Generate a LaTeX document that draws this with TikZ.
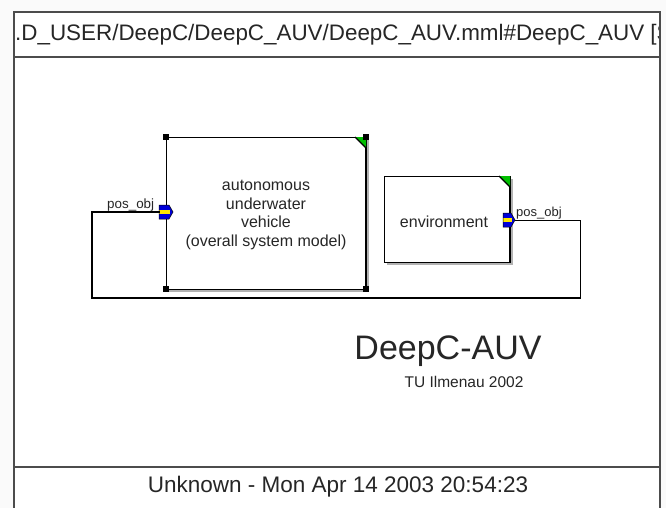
\documentclass[tikz,border=0pt]{standalone}
\usepackage{fontspec}
\setmainfont{Liberation Sans}
\begin{document}
\begin{tikzpicture}[x=1pt,y=-1pt,
  frameline/.style={draw=black!70,line width=1.6pt},
  blockbox/.style={draw=black,line width=0.8pt,fill=white},
  shadowbox/.style={fill=black!30,draw=none},
  handle/.style={fill=black,draw=none,minimum size=5.5pt,inner sep=0pt},
  lbl/.style={inner sep=0pt,text=black!85},
  wire/.style={draw=black,line cap=rect}]
\useasboundingbox (0,0) rectangle (666,508);
\fill[white!98!black] (0,0) rectangle (666,508);
% frame
\fill[white] (14,12) rectangle (660,520);
\begin{scope}
\clip (14,12) rectangle (659,57);
\node[lbl,anchor=west,font=\fontsize{22.4}{24}\selectfont] (hdr) at (15,35) {.D\_USER/DeepC/DeepC\_AUV/DeepC\_AUV.mml\#DeepC\_AUV [S};
\end{scope}
\draw[frameline] (14,520) -- (14,12) -- (660,12) -- (660,520);
\draw[frameline] (14,57) -- (660,57);
\draw[frameline] (14,467) -- (660,467);
\node[lbl,font=\fontsize{22.5}{24}\selectfont] (ftr) at (338,487) {Unknown - Mon Apr 14 2003 20:54:23};
% AUV block
\fill[shadowbox] (169,140) rectangle (369,292);
\draw[blockbox] (166,137) rectangle (366,289);
\draw[black,line width=1.4pt] (366,137) -- (366,289);
\fill[green!75!black] (355,137) -- (366,137) -- (366,148) -- cycle;
\draw[black,line width=1.2pt] (355,137) -- (366,148);
\node[handle] (h1) at (166,137) {};
\node[handle] (h2) at (366,137) {};
\node[handle] (h3) at (166,289) {};
\node[handle] (h4) at (366,289) {};
\node[lbl,align=center,font=\fontsize{16}{18.7}\selectfont] (auv) at (266,215)
  {autonomous\\underwater\\vehicle\\(overall system model)};
% environment block
\fill[shadowbox] (387,179) rectangle (513,265);
\draw[blockbox] (384,176) rectangle (510,262);
\draw[black,line width=1.8pt] (510,176) -- (510,262);
\fill[green!75!black] (499,176) -- (510,176) -- (510,187) -- cycle;
\draw[black,line width=1.2pt] (499,176) -- (510,187);
\node[lbl,font=\fontsize{16}{18}\selectfont] (env) at (444,222) {environment};
% ports
\begin{scope}[shift={(159,205)}]
\fill[blue!85!black] (0,0) -- (10,0) -- (14,7) -- (10,14) -- (0,14) -- cycle;
\fill[yellow!90!orange] (0,5) rectangle (11,9);
\draw[black,line width=0.5pt] (0,0) -- (10,0) -- (14,7) -- (10,14) -- (0,14) -- cycle;
\end{scope}
\coordinate (auvport) at (159,212);
\begin{scope}[shift={(503,213)}]
\fill[blue!85!black] (0,0) -- (8,0) -- (12,7) -- (8,14) -- (0,14) -- cycle;
\fill[yellow!90!orange] (0,5) rectangle (9,9);
\draw[black,line width=0.5pt] (0,0) -- (8,0) -- (12,7) -- (8,14) -- (0,14) -- cycle;
\end{scope}
\coordinate (envport) at (515,220);
\node[lbl,anchor=south west,font=\fontsize{13.4}{14}\selectfont] (pl) at (107,211) {pos\_obj};
\node[lbl,anchor=south west,font=\fontsize{13}{14}\selectfont] (pr) at (516,219) {pos\_obj};
% connector
\coordinate (c1) at (580,220);
\coordinate (c2) at (580,298);
\coordinate (c3) at (92,298);
\coordinate (c4) at (92,212);
\draw[wire,line width=1pt] (envport) -- (c1) -- (c2);
\draw[wire,line width=2.2pt] (c2) -- (c3) -- (c4) -- (auvport);
% titles
\node[lbl,font=\fontsize{34}{38}\selectfont] (title) at (448,351) {DeepC-AUV};
\node[lbl,font=\fontsize{15.5}{18}\selectfont] (sub) at (464,382) {TU Ilmenau 2002};
\end{tikzpicture}
\end{document}
